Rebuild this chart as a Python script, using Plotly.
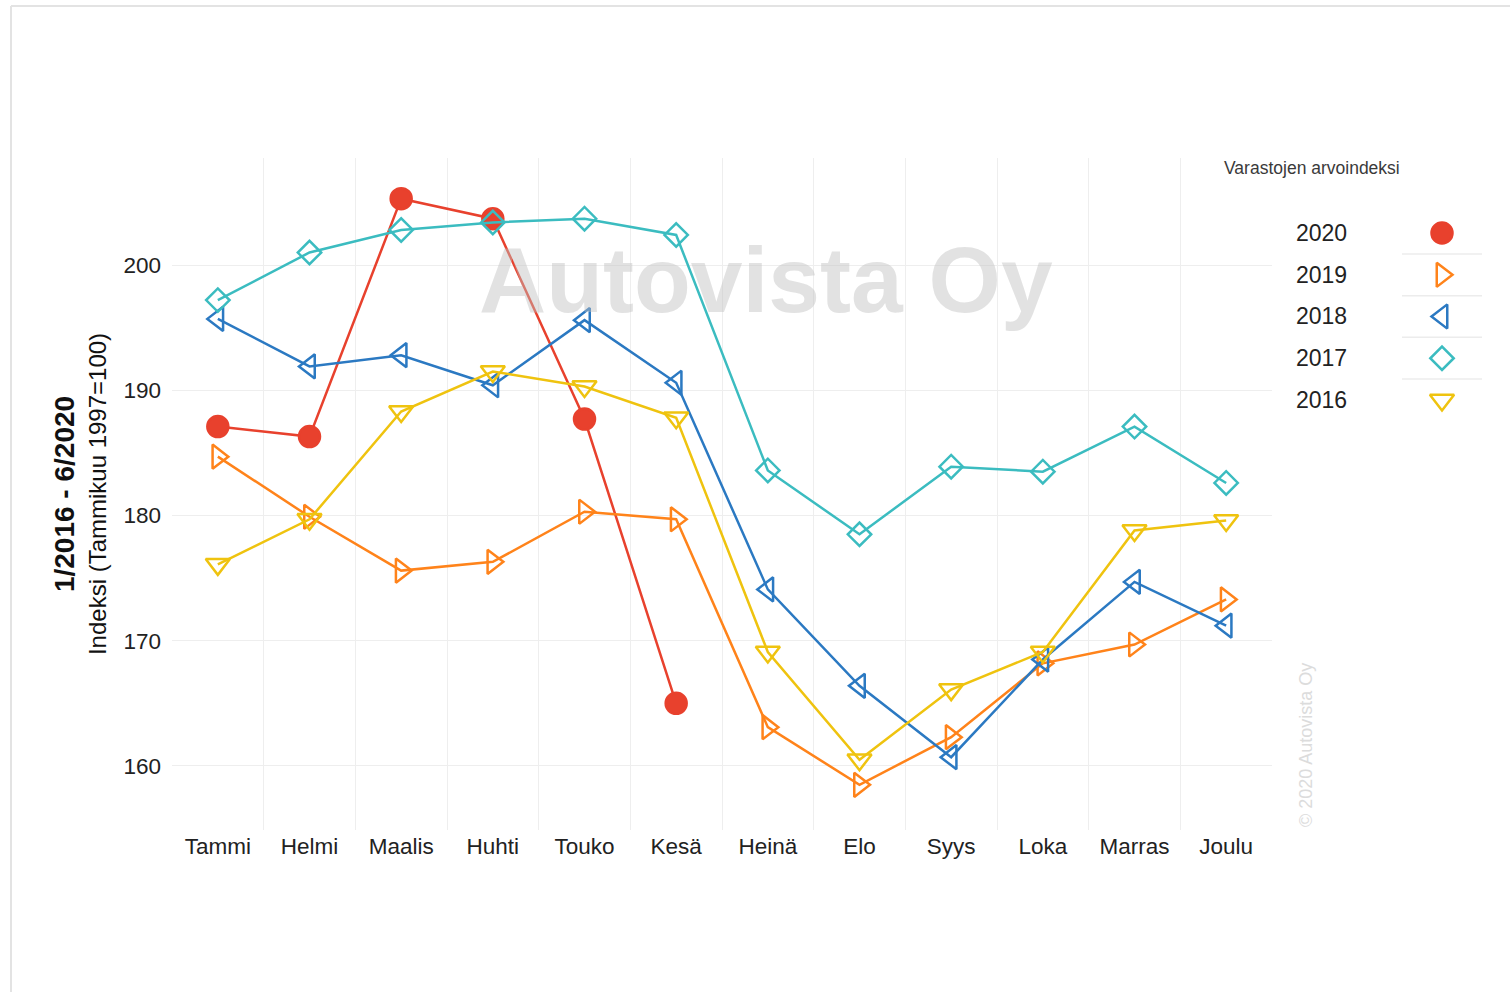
import plotly.graph_objects as go

months = ["Tammi", "Helmi", "Maalis", "Huhti", "Touko", "Kesä",
          "Heinä", "Elo", "Syys", "Loka", "Marras", "Joulu"]

v2020 = [187.1, 186.3, 205.3, 203.7, 187.7, 165.0]
v2019 = [184.7, 179.9, 175.6, 176.3, 180.3, 179.7, 163.1, 158.5, 162.3, 168.2, 169.7, 173.3]
v2018 = [195.7, 191.9, 192.8, 190.4, 195.6, 190.6, 174.1, 166.4, 160.7, 168.5, 174.7, 171.2]
v2017 = [197.2, 201.0, 202.8, 203.4, 203.7, 202.4, 183.6, 178.5, 183.9, 183.5, 187.1, 182.6]
v2016 = [176.1, 179.7, 188.3, 191.5, 190.3, 187.8, 169.1, 160.5, 166.1, 169.1, 178.8, 179.6]

years = ["2020", "2019", "2018", "2017", "2016"]
values = [v2020, v2019, v2018, v2017, v2016]
colors = ["#e8412d", "#ff831a", "#2b79c2", "#3bbcc0", "#efc30f"]
symbols = ["circle", "triangle-right-open", "triangle-left-open", "diamond-open", "triangle-down-open"]
sizes = [21, 21, 21, 18, 21]

y_ticks = [160, 170, 180, 190, 200]

FONT = "Arial, Liberation Sans, sans-serif"

fig = go.Figure()

for yr, vals, c, s, sz in zip(years, values, colors, symbols, sizes):
    fig.add_trace(go.Scatter(
        x=months[:len(vals)], y=vals, name=yr, mode="lines+markers",
        line=dict(color=c, width=2.5),
        marker=dict(symbol=s, size=sz, color=c, opacity=1,
                    line=dict(color=c, width=2.5)),
        showlegend=False, cliponaxis=False,
    ))

# custom legend markers (text left, symbol right)
leg_pos = list(range(len(years) - 1, -1, -1))
fig.add_trace(go.Scatter(
    x=[0] * len(years), y=leg_pos, mode="markers",
    marker=dict(symbol=symbols, size=sizes, color=colors, opacity=1,
                line=dict(color=colors, width=2.5)),
    xaxis="x2", yaxis="y2", showlegend=False, hoverinfo="skip", cliponaxis=False,
))

W, H = 1510, 992
L, R, T, B = 172, 20, 158, 162
PW = W - L - R
PH = H - T - B


def px(xp):
    return (xp - L) / PW


def py(yp):
    return (H - B - yp) / PH


annotations = []
for yr, pos in zip(years, leg_pos):
    annotations.append(dict(x=px(1294), xref="paper", y=pos, yref="y2",
                            text=yr, showarrow=False, xanchor="left", yanchor="middle",
                            font=dict(family=FONT, size=23, color="#222222")))
annotations.append(dict(x=px(1312), y=py(168), xref="paper", yref="paper",
                        xanchor="center", yanchor="middle",
                        text="Varastojen arvoindeksi", showarrow=False,
                        font=dict(family=FONT, size=17.5, color="#3a3a3a")))
annotations.append(dict(x=px(766), y=py(280), xref="paper", yref="paper",
                        xanchor="center", yanchor="middle",
                        text="<b>Autovista Oy</b>", showarrow=False,
                        font=dict(family=FONT, size=93, color="rgba(190,190,190,0.45)")))
annotations.append(dict(x=px(1306), y=py(745), xref="paper", yref="paper",
                        xanchor="center", yanchor="middle",
                        text="© 2020 Autovista Oy", showarrow=False, textangle=-90,
                        font=dict(family=FONT, size=18, color="#dcdcdc")))

shapes = []
for k in range(len(years) - 1):
    shapes.append(dict(type="line", xref="paper", yref="y2",
                       x0=px(1402), x1=px(1482), y0=k + 0.5, y1=k + 0.5,
                       line=dict(color="#ececec", width=1.5)))
# page frame
shapes.append(dict(type="line", xref="paper", yref="paper",
                   x0=px(11), x1=px(11), y0=py(6), y1=py(H + 10),
                   line=dict(color="#e3e3e3", width=2)))
shapes.append(dict(type="line", xref="paper", yref="paper",
                   x0=px(11), x1=px(W + 10), y0=py(6), y1=py(6),
                   line=dict(color="#e3e3e3", width=2)))

y_lo = 160 - (830 - 766) / 12.52
y_hi = 200 + (265 - 158) / 12.52

fig.update_layout(
    width=W, height=H,
    margin=dict(l=L, r=R, t=T, b=B),
    paper_bgcolor="white", plot_bgcolor="white",
    font=dict(family=FONT, size=23, color="#222222"),
    xaxis=dict(domain=[0, px(1272)], type="category", categoryorder="array",
               categoryarray=months, range=[-0.5, 11.5], tickson="boundaries",
               showgrid=True, gridcolor="#eeeeee", gridwidth=1, ticks="",
               showline=False, zeroline=False,
               tickfont=dict(family=FONT, size=22.5, color="#222222")),
    yaxis=dict(domain=[0, 1], range=[y_lo, y_hi], tickvals=y_ticks,
               showgrid=True, gridcolor="#eeeeee", gridwidth=1, zeroline=False,
               ticks="", showline=False, ticklabelstandoff=10,
               tickfont=dict(family=FONT, size=22.5, color="#222222"),
               title=dict(text="<b><span style='font-size:28px'>1/2016 - 6/2020</span></b><br>Indeksi (Tammikuu 1997=100)",
                          font=dict(family=FONT, size=24, color="#111111"),
                          standoff=10)),
    xaxis2=dict(domain=[px(1442) - 0.02, px(1442) + 0.02], range=[-1, 1],
                visible=False, anchor="y2"),
    yaxis2=dict(domain=[py(316.5) - 0.1553, py(316.5) + 0.1553], range=[-0.5, 4.5],
                visible=False, anchor="x2"),
    annotations=annotations,
    shapes=shapes,
)

fig.write_html("out.html", config={"displayModeBar": False})

with open("out.html", "r", encoding="utf-8") as f:
    html = f.read()
html = html.replace("<body>", '<body style="margin:0;padding:0;overflow:hidden">', 1)
with open("out.html", "w", encoding="utf-8") as f:
    f.write(html)
